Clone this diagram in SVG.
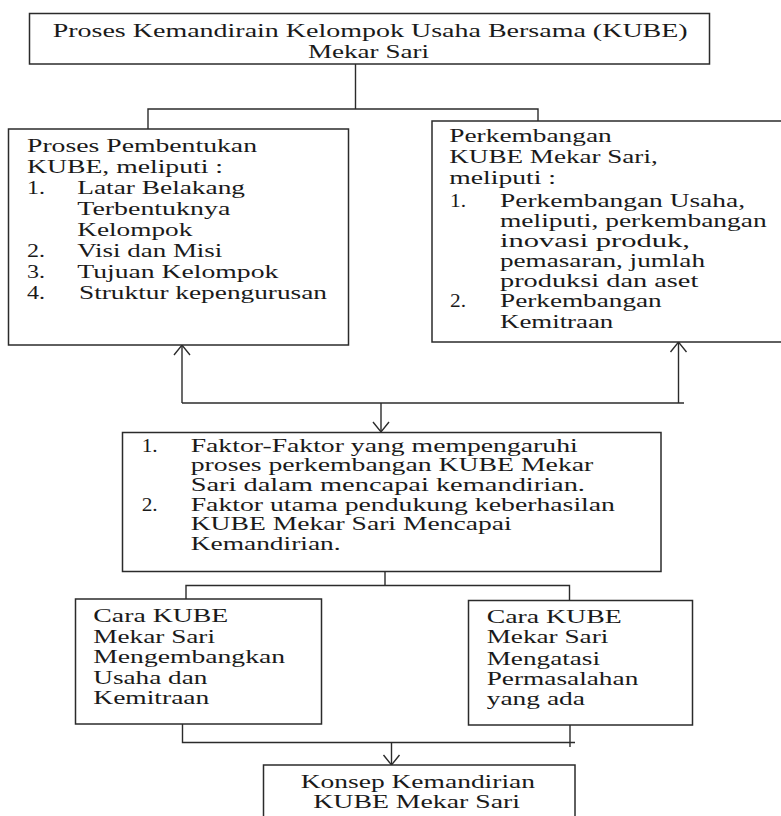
<svg xmlns="http://www.w3.org/2000/svg" width="781" height="816" viewBox="0 0 781 816">
<defs>
<style>
.box{fill:#fff;stroke:#2b2b2b;stroke-width:1.5}
.t{font-family:"Liberation Serif","Times New Roman",serif;font-size:19px;fill:#1a1a1a}
.s{font-size:18px}
.c{fill:none;stroke:#2b2b2b;stroke-width:1.4}
</style>
<marker id="ah" markerUnits="userSpaceOnUse" viewBox="-12 -10 14 20" markerWidth="14" markerHeight="20" refX="0" refY="0" orient="auto">
<path d="M-10,-8 L0,0 L-10,8" fill="none" stroke="#2b2b2b" stroke-width="1.4"/>
</marker>
</defs>
<rect width="781" height="816" fill="#fff"/>

<g id="connectors">
<path class="c" d="M355.5,64 V109 M148,129 V109 H538 V121"/>
<path class="c" d="M182,403 H684"/>
<path class="c" d="M182,403 V345" marker-end="url(#ah)"/>
<path class="c" d="M678.5,403 V342" marker-end="url(#ah)"/>
<path class="c" d="M381,403 V432" marker-end="url(#ah)"/>
<path class="c" d="M385,572 V585.5 M186,599 V585.5 H569.5 V600.5"/>
<path class="c" d="M182.5,724 V742.5 H575 M570,725 V747"/>
<path class="c" d="M391.5,742.5 V765" marker-end="url(#ah)"/>
</g>

<g id="top">
<rect class="box" x="29.5" y="13.5" width="680" height="50.5"/>
<text class="t" x="52.7" y="36.5" textLength="635" lengthAdjust="spacingAndGlyphs">Proses Kemandirain Kelompok Usaha Bersama (KUBE)</text>
<text class="t" x="308" y="57.8" textLength="121" lengthAdjust="spacingAndGlyphs">Mekar Sari</text>
</g>

<g id="pembentukan">
<rect class="box" x="8.5" y="129" width="340" height="216"/>
<text class="t" x="27" y="151.7" textLength="230" lengthAdjust="spacingAndGlyphs">Proses Pembentukan</text>
<text class="t" x="27" y="172.7" textLength="196" lengthAdjust="spacingAndGlyphs">KUBE, meliputi :</text>
<text class="t" x="27" y="193.7" textLength="18" lengthAdjust="spacingAndGlyphs">1.</text>
<text class="t" x="77.3" y="193.7" textLength="167.7" lengthAdjust="spacingAndGlyphs">Latar Belakang</text>
<text class="t" x="77.3" y="214.7" textLength="153" lengthAdjust="spacingAndGlyphs">Terbentuknya</text>
<text class="t" x="77.3" y="235.7" textLength="115" lengthAdjust="spacingAndGlyphs">Kelompok</text>
<text class="t" x="27" y="256.7" textLength="18" lengthAdjust="spacingAndGlyphs">2.</text>
<text class="t" x="77.3" y="256.7" textLength="145" lengthAdjust="spacingAndGlyphs">Visi dan Misi</text>
<text class="t" x="27" y="277.7" textLength="18" lengthAdjust="spacingAndGlyphs">3.</text>
<text class="t" x="77.3" y="277.7" textLength="201" lengthAdjust="spacingAndGlyphs">Tujuan Kelompok</text>
<text class="t" x="27" y="298.5" textLength="18" lengthAdjust="spacingAndGlyphs">4.</text>
<text class="t" x="79" y="298.5" textLength="248" lengthAdjust="spacingAndGlyphs">Struktur kepengurusan</text>
</g>

<g id="perkembangan">
<rect class="box" x="432" y="121" width="360" height="221"/>
<text class="t" x="449.3" y="141.7" textLength="162.4" lengthAdjust="spacingAndGlyphs">Perkembangan</text>
<text class="t" x="449.3" y="163" textLength="208.4" lengthAdjust="spacingAndGlyphs">KUBE Mekar Sari,</text>
<text class="t" x="449.3" y="184" textLength="106.7" lengthAdjust="spacingAndGlyphs">meliputi :</text>
<text class="t" x="450" y="206.5" textLength="16" lengthAdjust="spacingAndGlyphs">1.</text>
<text class="t" x="500" y="206.5" textLength="245" lengthAdjust="spacingAndGlyphs">Perkembangan Usaha,</text>
<text class="t" x="500" y="226.7" textLength="266.7" lengthAdjust="spacingAndGlyphs">meliputi, perkembangan</text>
<text class="t" x="500" y="246.7" textLength="190" lengthAdjust="spacingAndGlyphs">inovasi produk,</text>
<text class="t" x="500" y="266.7" textLength="205" lengthAdjust="spacingAndGlyphs">pemasaran, jumlah</text>
<text class="t" x="500" y="286.7" textLength="198.3" lengthAdjust="spacingAndGlyphs">produksi dan aset</text>
<text class="t" x="450" y="306.7" textLength="16" lengthAdjust="spacingAndGlyphs">2.</text>
<text class="t" x="500" y="306.7" textLength="161.7" lengthAdjust="spacingAndGlyphs">Perkembangan</text>
<text class="t" x="500" y="327.5" textLength="113.3" lengthAdjust="spacingAndGlyphs">Kemitraan</text>
</g>

<g id="faktor">
<rect class="box" x="122.5" y="432.5" width="538.5" height="139"/>
<text class="t s" x="141.7" y="451.5" textLength="16" lengthAdjust="spacingAndGlyphs">1.</text>
<text class="t s" x="190.7" y="451.5" textLength="387" lengthAdjust="spacingAndGlyphs">Faktor-Faktor yang mempengaruhi</text>
<text class="t s" x="190.7" y="471.3" textLength="402.6" lengthAdjust="spacingAndGlyphs">proses perkembangan KUBE Mekar</text>
<text class="t s" x="190.7" y="491" textLength="394.3" lengthAdjust="spacingAndGlyphs">Sari dalam mencapai kemandirian.</text>
<text class="t s" x="141.7" y="510.7" textLength="16" lengthAdjust="spacingAndGlyphs">2.</text>
<text class="t s" x="190.7" y="510.7" textLength="424.3" lengthAdjust="spacingAndGlyphs">Faktor utama pendukung keberhasilan</text>
<text class="t s" x="190.7" y="530.4" textLength="321" lengthAdjust="spacingAndGlyphs">KUBE Mekar Sari Mencapai</text>
<text class="t s" x="190.7" y="550.2" textLength="150" lengthAdjust="spacingAndGlyphs">Kemandirian.</text>
</g>

<g id="cara-usaha">
<rect class="box" x="75.5" y="599" width="246" height="125"/>
<text class="t" x="93.3" y="621.7" textLength="135" lengthAdjust="spacingAndGlyphs">Cara KUBE</text>
<text class="t" x="93.3" y="642.7" textLength="121.7" lengthAdjust="spacingAndGlyphs">Mekar Sari</text>
<text class="t" x="93.3" y="663" textLength="191.7" lengthAdjust="spacingAndGlyphs">Mengembangkan</text>
<text class="t" x="93.3" y="684" textLength="114" lengthAdjust="spacingAndGlyphs">Usaha dan</text>
<text class="t" x="93.3" y="704.3" textLength="116" lengthAdjust="spacingAndGlyphs">Kemitraan</text>
</g>

<g id="cara-masalah">
<rect class="box" x="468.5" y="600.5" width="224" height="124.5"/>
<text class="t" x="486.7" y="622.7" textLength="135" lengthAdjust="spacingAndGlyphs">Cara KUBE</text>
<text class="t" x="486.7" y="643.3" textLength="121.6" lengthAdjust="spacingAndGlyphs">Mekar Sari</text>
<text class="t" x="486.7" y="664.5" textLength="113.3" lengthAdjust="spacingAndGlyphs">Mengatasi</text>
<text class="t" x="486.7" y="685" textLength="151.6" lengthAdjust="spacingAndGlyphs">Permasalahan</text>
<text class="t" x="486.7" y="705" textLength="98.3" lengthAdjust="spacingAndGlyphs">yang ada</text>
</g>

<g id="konsep">
<rect class="box" x="263.5" y="765" width="311.5" height="70"/>
<text class="t" x="300.7" y="788.3" textLength="234.3" lengthAdjust="spacingAndGlyphs">Konsep Kemandirian</text>
<text class="t" x="313.3" y="808.3" textLength="206.7" lengthAdjust="spacingAndGlyphs">KUBE Mekar Sari</text>
</g>
</svg>
